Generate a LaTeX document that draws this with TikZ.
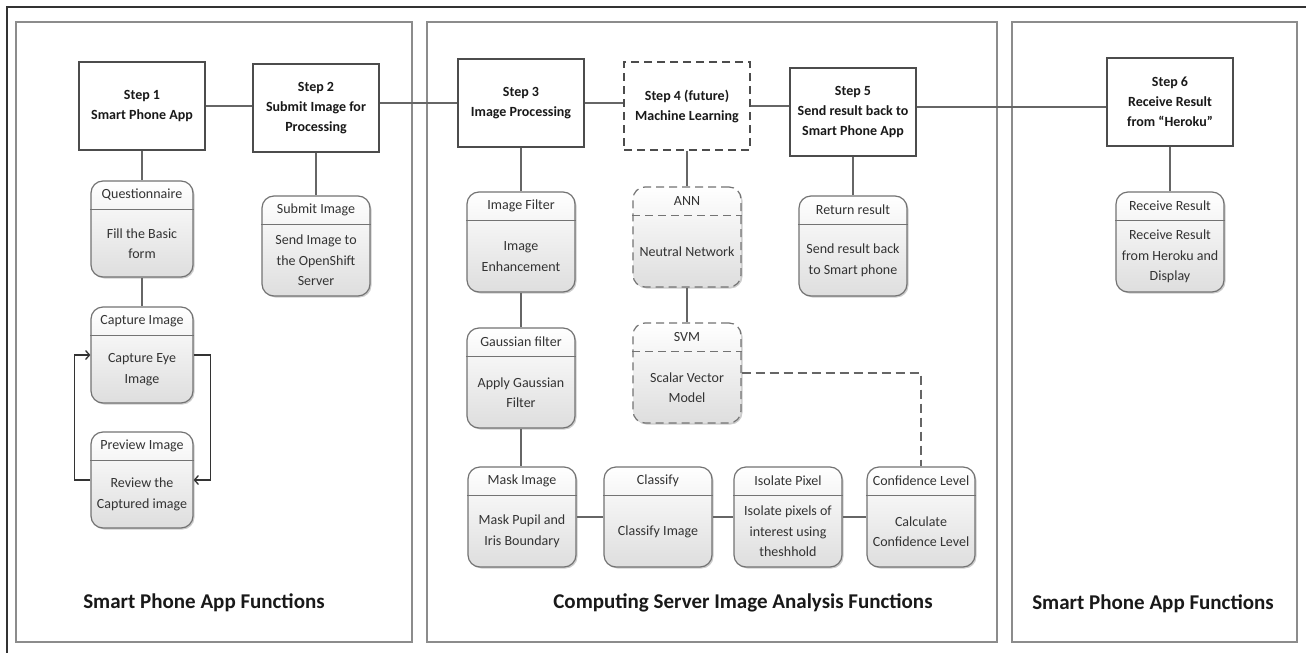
\documentclass[tikz,border=0pt]{standalone}
\usepackage{fontspec}
\setmainfont{Carlito}
\usetikzlibrary{positioning,calc,arrows.meta,shadows}

% sub-function box: [extra style] name, centre, header, body
\newcommand{\funcnode}[5][]{%
  \node[funcbox,#1] (#2) at (#3) {};
  \coordinate (#2d) at ($(#2.north)+(0,29)$);
  \draw[funcline,#1] (#2d -| #2.west) -- (#2d -| #2.east);
  \node[headtext] (#2h) at ($(#2.north)!0.5!(#2d)$) {#4};
  \node[bodytext] (#2b) at ($(#2d)!0.5!(#2.south)$) {#5};
}

\begin{document}
\begin{tikzpicture}[x=1pt, y=-1pt,
    stepbox/.style={draw=black!70, line width=1.5pt, fill=white, minimum width=126pt, minimum height=88pt,
      align=center, inner sep=2pt, font=\bfseries\fontsize{14}{20}\selectfont, text=black!90},
    futurebox/.style={stepbox, dash pattern=on 8pt off 5pt},
    funcbox/.style={draw=black!55, line width=1.2pt, rounded corners=12pt, minimum width=108pt, minimum height=100pt,
      top color=white, bottom color=black!13, inner sep=0pt,
      drop shadow={shadow xshift=1.5pt, shadow yshift=-1.5pt, opacity=0.2, fill=black}},
    futurefunc/.style={dash pattern=on 8pt off 5pt},
    funcline/.style={draw=black!55, line width=1.2pt},
    headtext/.style={inner sep=0pt, font=\fontsize{14}{17}\selectfont, text=black!80},
    bodytext/.style={inner sep=0pt, align=center, font=\fontsize{14}{20.5}\selectfont, text=black!80},
    link/.style={draw=black!60, line width=1.6pt},
    loopline/.style={draw=black!80, line width=1.3pt, -{Straight Barb[length=4pt,width=9pt]}},
    panel/.style={draw=black!45, line width=1.4pt},
    paneltitle/.style={font=\bfseries\fontsize{21}{25}\selectfont, text=black!90}]
  \useasboundingbox[fill=white] (0,0) rectangle (1306,653);

  % panels and frame
  \draw[panel] (16,22) rectangle (412,642);
  \draw[panel] (427,22) rectangle (997,642);
  \draw[panel] (1012,22) rectangle (1297,642);
  \draw[draw=black!80, line width=1.5pt] (7,653) -- (7,7) -- (1306,7);
  \node[paneltitle] (t1) at (204,603) {Smart Phone App Functions};
  \node[paneltitle] (t2) at (743,603) {Computing Server Image Analysis Functions};
  \node[paneltitle] (t3) at (1153,604) {Smart Phone App Functions};

  % steps
  \node[stepbox]   (s1) at (142,106) {Step 1\\Smart Phone App};
  \node[stepbox]   (s2) at (316,108) {Step 2\\Submit Image for\\Processing};
  \node[stepbox]   (s3) at (521,103) {Step 3\\Image Processing};
  \node[futurebox] (s4) at (687,106) {Step 4 (future)\\Machine Learning};
  \node[stepbox]   (s5) at (853,112) {Step 5\\Send result back to\\Smart Phone App};
  \node[stepbox]   (s6) at (1170,102) {Step 6\\Receive Result\\from ``Heroku''};

  % functions
  \funcnode[minimum width=102pt, minimum height=96pt]{qst}{142,229}{Questionnaire}{Fill the Basic\\form}
  \funcnode[minimum width=102pt, minimum height=96pt]{cap}{142,355}{Capture Image}{Capture Eye\\Image}
  \funcnode[minimum width=102pt, minimum height=96pt]{prev}{142,480}{Preview Image}{Review the\\Captured image}
  \funcnode{sub}{316,246}{Submit Image}{Send Image to\\the OpenShift\\Server}
  \funcnode{filt}{521,242}{Image Filter}{Image\\Enhancement}
  \funcnode{gaus}{521,378}{Gaussian filter}{Apply Gaussian\\Filter}
  \funcnode{mask}{522,517}{Mask Image}{Mask Pupil and\\Iris Boundary}
  \funcnode{cls}{658,517}{Classify}{Classify Image}
  \funcnode{iso}{788,517}{Isolate Pixel}{Isolate pixels of\\interest using\\theshhold}
  \funcnode{conf}{921,517}{Confidence Level}{Calculate\\Confidence Level}
  \funcnode[futurefunc]{ann}{687,237}{ANN}{Neutral Network}
  \funcnode[futurefunc]{svm}{687,373}{SVM}{Scalar Vector\\Model}
  \funcnode{ret}{853,246}{Return result}{Send result back\\to Smart phone}
  \funcnode{recv}{1170,242}{Receive Result}{Receive Result\\from Heroku and\\Display}

  % connectors
  \coordinate (j56) at ($(s5.east)+(0,-5)$);
  \draw[link] (s1.east) -- (s1.east -| s2.west);
  \draw[link] (s3.west -| s2.east) -- (s3.west);
  \draw[link] (s3.east) -- (s3.east -| s4.west);
  \draw[link] (s4.east) -- (s4.east -| s5.west);
  \draw[link] (j56) -- (j56 -| s6.west);
  \draw[link] (s1.south) -- (qst.north);
  \draw[link] (qst.south) -- (cap.north);
  \draw[link] (s2.south) -- (sub.north);
  \draw[link] (s3.south) -- (filt.north);
  \draw[link] (filt.south) -- (gaus.north);
  \draw[link] (gaus.south) -- (gaus.south |- mask.north);
  \draw[link] (s4.south) -- (ann.north);
  \draw[link] (ann.south) -- (svm.north);
  \draw[link] (s5.south) -- (ret.north);
  \draw[link] (s6.south) -- (recv.north);
  \draw[link] (mask.east) -- (cls.west);
  \draw[link] (cls.east) -- (iso.west);
  \draw[link] (iso.east) -- (conf.west);
  \draw[link, dash pattern=on 9pt off 5pt] (svm.east) -| (conf.north);
  \draw[loopline] (cap.east) -- ++(17,0) |- (prev.east);
  \draw[loopline] (prev.west) -- ++(-16,0) |- (cap.west);
\end{tikzpicture}
\end{document}
